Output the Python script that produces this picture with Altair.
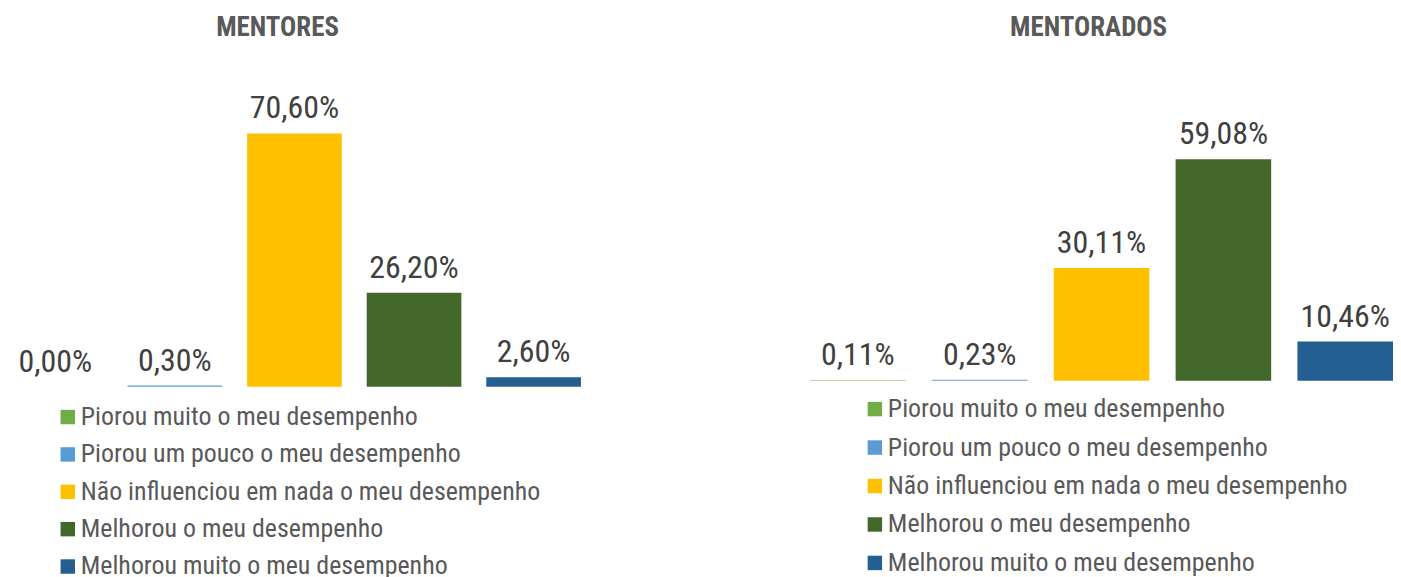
import altair as alt
import pandas as pd

categories = [
    "Piorou muito o meu desempenho",
    "Piorou um pouco o meu desempenho",
    "Não influenciou em nada o meu desempenho",
    "Melhorou o meu desempenho",
    "Melhorou muito o meu desempenho",
]
colors = ["#70AD47", "#5B9BD5", "#FFC000", "#43682B", "#255E91"]

mentores_values = [0.00, 0.30, 70.60, 26.20, 2.60]
mentorados_values = [0.11, 0.23, 30.11, 59.08, 10.46]

FONT = "Roboto Condensed, DejaVu Sans Condensed, sans-serif"


def fmt(v):
    return f"{v:.2f}".replace(".", ",") + "%"


def panel(title, values, width, height, ymax, pad_inner, title_dx, leg_x, leg_y, row_pad):
    df = pd.DataFrame({
        "cat": categories,
        "value": values,
        "label": [fmt(v) for v in values],
    })
    x = alt.X("cat:N", sort=categories, axis=None,
              scale=alt.Scale(paddingInner=pad_inner, paddingOuter=0))
    y = alt.Y("value:Q", axis=None, scale=alt.Scale(domain=[0, ymax], nice=False, zero=True))
    bars = alt.Chart(df).mark_bar().encode(
        x=x,
        y=y,
        color=alt.Color(
            "cat:N",
            sort=categories,
            scale=alt.Scale(domain=categories, range=colors),
            legend=alt.Legend(
                orient="none", legendX=leg_x, legendY=leg_y, title=None,
                symbolType="square", symbolSize=210, symbolStrokeWidth=0,
                labelFont=FONT, labelFontSize=26, labelColor="#595959",
                labelOffset=0, rowPadding=row_pad, padding=0, labelLimit=600,
                direction="vertical",
            ),
        ),
    )
    text = alt.Chart(df).mark_text(
        font=FONT, fontSize=32, color="#404040", baseline="alphabetic", dy=-15
    ).encode(x=x, y=y, text="label:N")
    return (bars + text).properties(
        width=width, height=height,
        title=alt.TitleParams(title, font=FONT, fontSize=27, fontWeight="bold",
                              color="#595959", anchor="middle", dx=title_dx, offset=20),
    )


left = panel("MENTORES", mentores_values, 575, 326, 326 / 3.6, 25 / 120, -17, 47, 343.5, 11.5)
right = panel("MENTORADOS", mentorados_values, 585, 320, 320 / 3.76, 26.5 / 122.9, -13, 52, 335.5, 12.6)

chart = alt.hconcat(left, right, spacing=230).resolve_scale(color="independent").properties(
    padding={"top": 5, "left": 0, "right": 0, "bottom": 0}
).configure_view(stroke=None)

chart.save("out.html", embed_options={"renderer": "svg", "actions": False})
